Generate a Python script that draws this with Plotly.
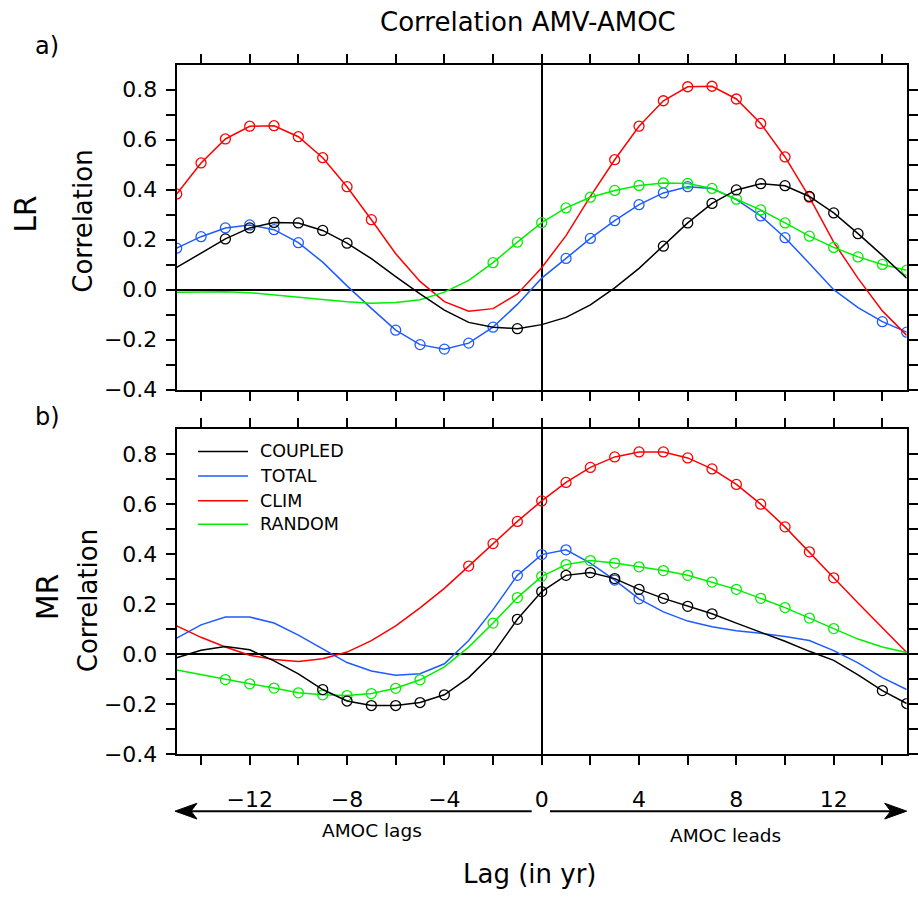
import plotly.graph_objects as go

# ---------------- data ----------------
lags = list(range(-15, 16))

LR_COUPLED = [0.089, 0.146, 0.203, 0.247, 0.269, 0.267, 0.237, 0.186, 0.124, 0.052, -0.017,
              -0.082, -0.131, -0.150, -0.156, -0.140, -0.111, -0.061, 0.007, 0.085, 0.174,
              0.267, 0.345, 0.399, 0.424, 0.416, 0.373, 0.307, 0.224, 0.137, 0.046]
LR_TOTAL = [0.166, 0.212, 0.247, 0.259, 0.240, 0.188, 0.110, 0.015, -0.075, -0.162, -0.220,
            -0.238, -0.214, -0.150, -0.059, 0.046, 0.125, 0.205, 0.276, 0.340, 0.387,
            0.412, 0.405, 0.360, 0.295, 0.208, 0.105, 0.000, -0.072, -0.128, -0.170]
LR_CLIM = [0.383, 0.507, 0.603, 0.654, 0.656, 0.612, 0.528, 0.412, 0.280, 0.144, 0.033,
           -0.048, -0.086, -0.076, -0.017, 0.088, 0.216, 0.373, 0.520, 0.654, 0.756,
           0.812, 0.814, 0.763, 0.665, 0.531, 0.370, 0.190, 0.045, -0.085, -0.183]
LR_RANDOM = [-0.010, -0.009, -0.008, -0.012, -0.020, -0.029, -0.039, -0.048, -0.054, -0.051, -0.040,
             -0.010, 0.037, 0.108, 0.190, 0.268, 0.327, 0.370, 0.397, 0.417, 0.427,
             0.425, 0.405, 0.362, 0.319, 0.267, 0.214, 0.169, 0.131, 0.101, 0.078]

MR_COUPLED = [-0.014, 0.016, 0.031, 0.018, -0.026, -0.078, -0.141, -0.187, -0.205, -0.205, -0.193,
              -0.162, -0.093, 0.003, 0.140, 0.251, 0.316, 0.327, 0.303, 0.260, 0.224,
              0.192, 0.162, 0.125, 0.089, 0.052, 0.012, -0.024, -0.082, -0.145, -0.197]
MR_TOTAL = [0.065, 0.118, 0.149, 0.149, 0.125, 0.077, 0.022, -0.033, -0.067, -0.084, -0.078,
            -0.038, 0.055, 0.179, 0.316, 0.399, 0.418, 0.365, 0.297, 0.222, 0.170,
            0.133, 0.110, 0.094, 0.084, 0.071, 0.055, 0.015, -0.034, -0.093, -0.141]
MR_CLIM = [0.114, 0.068, 0.029, -0.004, -0.021, -0.029, -0.018, 0.009, 0.055, 0.114, 0.186,
           0.264, 0.353, 0.443, 0.532, 0.614, 0.688, 0.748, 0.790, 0.810, 0.810,
           0.786, 0.742, 0.680, 0.601, 0.510, 0.410, 0.306, 0.205, 0.107, 0.007]
MR_RANDOM = [-0.063, -0.082, -0.101, -0.118, -0.135, -0.154, -0.162, -0.165, -0.157, -0.136, -0.102,
             -0.050, 0.029, 0.125, 0.227, 0.312, 0.359, 0.375, 0.365, 0.350, 0.335,
             0.316, 0.289, 0.260, 0.224, 0.187, 0.145, 0.103, 0.061, 0.029, 0.007]

# lags where a circle marker is drawn
LR_COUPLED_SIG = [-13, -12, -11, -10, -9, -8, -1, 5, 6, 7, 8, 9, 10, 11, 12, 13]
LR_TOTAL_SIG = [-15, -14, -13, -12, -11, -10, -6, -5, -4, -3, -2, 1, 2, 3, 4, 5, 6, 9, 10, 14, 15]
LR_CLIM_SIG = [-15, -14, -13, -12, -11, -10, -9, -8, -7, 3, 4, 5, 6, 7, 8, 9, 10, 11]
LR_RANDOM_SIG = list(range(-2, 16))

MR_COUPLED_SIG = [-9, -8, -7, -6, -5, -4, -1, 0, 1, 2, 3, 4, 5, 6, 7, 14, 15]
MR_TOTAL_SIG = [-1, 0, 1, 3, 4]
MR_CLIM_SIG = list(range(-3, 13))
MR_RANDOM_SIG = list(range(-13, -4)) + list(range(-2, 13))

series_names = ["COUPLED", "TOTAL", "CLIM", "RANDOM"]
colors = {"COUPLED": "#000000", "TOTAL": "#1e5cff", "CLIM": "#ff0000", "RANDOM": "#00ee00"}

x_tickvals = list(range(-14, 15, 2))
x_ticktext = [("\u2212" + str(-v) if v < 0 else str(v)) if v % 4 == 0 else "" for v in x_tickvals]
y_tickvals = [round(-0.4 + 0.1 * i, 1) for i in range(13)]
y_ticktext = []
for v in y_tickvals:
    if round(v * 10) % 2 == 0:
        s = "%.1f" % abs(v)
        y_ticktext.append(("\u2212" + s) if v < 0 else s)
    else:
        y_ticktext.append("")

# ---------------- layout helpers ----------------
W, H = 918, 902
FONT = "DejaVu Sans"


def px(x):
    return x / W


def py(y):
    return 1 - y / H


fig = go.Figure()

panels = [
    ("x", "y", {"COUPLED": LR_COUPLED, "TOTAL": LR_TOTAL, "CLIM": LR_CLIM, "RANDOM": LR_RANDOM},
     {"COUPLED": LR_COUPLED_SIG, "TOTAL": LR_TOTAL_SIG, "CLIM": LR_CLIM_SIG, "RANDOM": LR_RANDOM_SIG}),
    ("x2", "y2", {"COUPLED": MR_COUPLED, "TOTAL": MR_TOTAL, "CLIM": MR_CLIM, "RANDOM": MR_RANDOM},
     {"COUPLED": MR_COUPLED_SIG, "TOTAL": MR_TOTAL_SIG, "CLIM": MR_CLIM_SIG, "RANDOM": MR_RANDOM_SIG}),
]

order = ["TOTAL", "CLIM", "RANDOM", "COUPLED"]
for xa, ya, data, sig in panels:
    for name in order:
        vals = data[name]
        fig.add_trace(go.Scatter(x=lags, y=vals, mode="lines", xaxis=xa, yaxis=ya,
                                 line=dict(color=colors[name], width=1.5),
                                 showlegend=False, name=name))
        mx = [l for l in lags if l in sig[name]]
        my = [vals[lags.index(l)] for l in mx]
        fig.add_trace(go.Scatter(x=mx, y=my, mode="markers", xaxis=xa, yaxis=ya,
                                 marker=dict(symbol="circle-open", size=10, color=colors[name],
                                             line=dict(width=1.3, color=colors[name])),
                                 showlegend=False, name=name))

xdom = [px(176.7), px(906.7)]
axis_common = dict(showline=True, linecolor="black", linewidth=2, mirror="ticks",
                   ticks="outside", ticklen=9, tickwidth=2, tickcolor="black",
                   showgrid=False, zeroline=True, zerolinecolor="black", zerolinewidth=2,
                   tickfont=dict(family=FONT, size=22, color="black"))

fig.update_layout(
    width=W, height=H,
    margin=dict(l=0, r=0, t=0, b=0),
    paper_bgcolor="white", plot_bgcolor="white",
    showlegend=False,
    font=dict(family=FONT, color="black"),
    xaxis=dict(domain=xdom, range=[-15, 15], tickvals=x_tickvals, ticktext=x_ticktext,
               showticklabels=False, anchor="y", **axis_common),
    yaxis=dict(domain=[py(395.3), py(65.7)], range=[-0.4, 0.9], tickvals=y_tickvals,
               ticktext=y_ticktext, anchor="x", ticklabelstandoff=4, **axis_common),
    xaxis2=dict(domain=xdom, range=[-15, 15], tickvals=x_tickvals, ticktext=x_ticktext,
                anchor="y2", ticklabelstandoff=15, **axis_common),
    yaxis2=dict(domain=[py(765.3), py(435.7)], range=[-0.4, 0.9], tickvals=y_tickvals,
                ticktext=y_ticktext, anchor="x2", ticklabelstandoff=4, **axis_common),
)

ann = []


def text(x, y, s, size, angle=0, xanchor="center", yanchor="middle"):
    ann.append(dict(x=px(x), y=py(y), xref="paper", yref="paper", text=s, showarrow=False,
                    textangle=angle, xanchor=xanchor, yanchor=yanchor,
                    font=dict(family=FONT, size=size, color="black")))


text(528, 22, "Correlation AMV-AMOC", 26)
text(47, 47, "a)", 24)
text(47, 423, "b)", 24)
text(26, 217, "LR", 30, angle=-90)
text(47, 606, "MR", 30, angle=-90)
text(83, 225, "Correlation", 26, angle=-90)
text(88, 610, "Correlation", 26, angle=-90)
text(530, 887, "Lag (in yr)", 26)
text(372, 843, "AMOC lags", 18.5)
text(725, 848, "AMOC leads", 18.5)

# manual legend in panel b
leg_y = [458, 483, 508, 532]
shapes = []
for name, yy in zip(series_names, leg_y):
    shapes.append(dict(type="line", xref="paper", yref="paper", x0=px(198), x1=px(248),
                       y0=py(yy), y1=py(yy), line=dict(color=colors[name], width=1.5)))
    text(258, yy, name, 17.5, xanchor="left")

# arrows below the x axis
ay = 823
shapes.append(dict(type="line", xref="paper", yref="paper", x0=px(190), x1=px(531.7),
                   y0=py(ay), y1=py(ay), line=dict(color="black", width=2)))
shapes.append(dict(type="path", xref="paper", yref="paper",
                   path="M %f,%f L %f,%f L %f,%f L %f,%f Z" % (
                       px(175), py(ay), px(197), py(ay - 8), px(191), py(ay), px(197), py(ay + 8)),
                   fillcolor="black", line=dict(color="black", width=1)))
shapes.append(dict(type="line", xref="paper", yref="paper", x0=px(550), x1=px(892),
                   y0=py(ay), y1=py(ay), line=dict(color="black", width=2)))
shapes.append(dict(type="path", xref="paper", yref="paper",
                   path="M %f,%f L %f,%f L %f,%f L %f,%f Z" % (
                       px(906.7), py(ay), px(884.7), py(ay - 8), px(890.7), py(ay), px(884.7), py(ay + 8)),
                   fillcolor="black", line=dict(color="black", width=1)))

fig.update_layout(annotations=ann, shapes=shapes)

fig.write_html("out.html")
